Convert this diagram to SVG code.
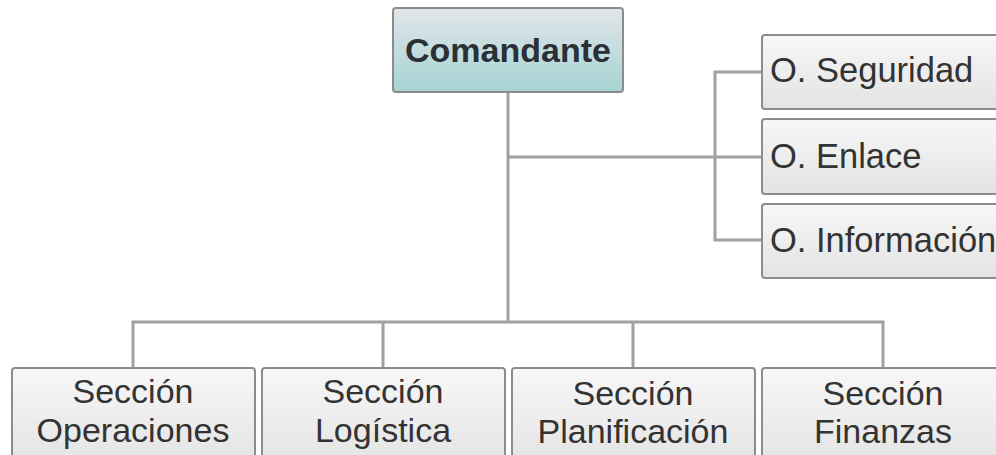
<svg xmlns="http://www.w3.org/2000/svg" width="996" height="455" viewBox="0 0 996 455">
<defs>
<linearGradient id="gTop" x1="0" y1="0" x2="0" y2="1">
<stop offset="0" stop-color="#e2e6ea"/>
<stop offset="1" stop-color="#a5d3d3"/>
</linearGradient>
<linearGradient id="gBox" x1="0" y1="0" x2="0" y2="1">
<stop offset="0" stop-color="#f7f7f7"/>
<stop offset="1" stop-color="#e3e3e3"/>
</linearGradient>
</defs>
<style>
.box{fill:url(#gBox);stroke:#8c8c8c;stroke-width:2}
.top{fill:url(#gTop);stroke:#8c8c8c;stroke-width:2}
.ln{fill:none;stroke:#a0a0a0;stroke-width:3}
.t{font-family:"Liberation Sans",Arial,sans-serif;font-size:34px;fill:#333}
.tr{font-size:34.5px}
.tc{text-anchor:middle}
.tb{font-family:"Liberation Sans",Arial,sans-serif;font-size:34px;font-weight:bold;fill:#2a3035;text-anchor:middle}
</style>
<rect width="996" height="455" fill="#ffffff"/>
<g id="connectors">
<path class="ln" d="M508 92 V321"/>
<path class="ln" d="M508 157 H762"/>
<path class="ln" d="M762 72 H715 V240 H762"/>
<path class="ln" d="M133 368 V322 H883 V368"/>
<path class="ln" d="M383 322 V368"/>
<path class="ln" d="M633 322 V368"/>
</g>
<g id="comandante">
<rect class="top" x="393" y="8" width="230" height="84" rx="3"/>
<text class="tb" x="508" y="62">Comandante</text>
</g>
<g id="seguridad">
<rect class="box" x="762" y="35" width="245" height="74" rx="3"/>
<text class="t tr" x="770" y="82">O. Seguridad</text>
</g>
<g id="enlace">
<rect class="box" x="762" y="119" width="245" height="75" rx="3"/>
<text class="t tr" x="770" y="168">O. Enlace</text>
</g>
<g id="informacion">
<rect class="box" x="762" y="204" width="245" height="74" rx="3"/>
<text class="t tr" x="770" y="252">O. Información</text>
</g>
<g id="operaciones">
<rect class="box" x="12" y="368" width="243" height="100" rx="3"/>
<text class="t tc" x="133" y="403">Sección</text>
<text class="t tc" x="133" y="442">Operaciones</text>
</g>
<g id="logistica">
<rect class="box" x="262" y="368" width="243" height="100" rx="3"/>
<text class="t tc" x="383" y="403">Sección</text>
<text class="t tc" x="383" y="442">Logística</text>
</g>
<g id="planificacion">
<rect class="box" x="512" y="368" width="243" height="100" rx="3"/>
<text class="t tc" x="633" y="405">Sección</text>
<text class="t tc" x="633" y="443">Planificación</text>
</g>
<g id="finanzas">
<rect class="box" x="762" y="368" width="245" height="100" rx="3"/>
<text class="t tc" x="883" y="405">Sección</text>
<text class="t tc" x="883" y="443">Finanzas</text>
</g>
</svg>
